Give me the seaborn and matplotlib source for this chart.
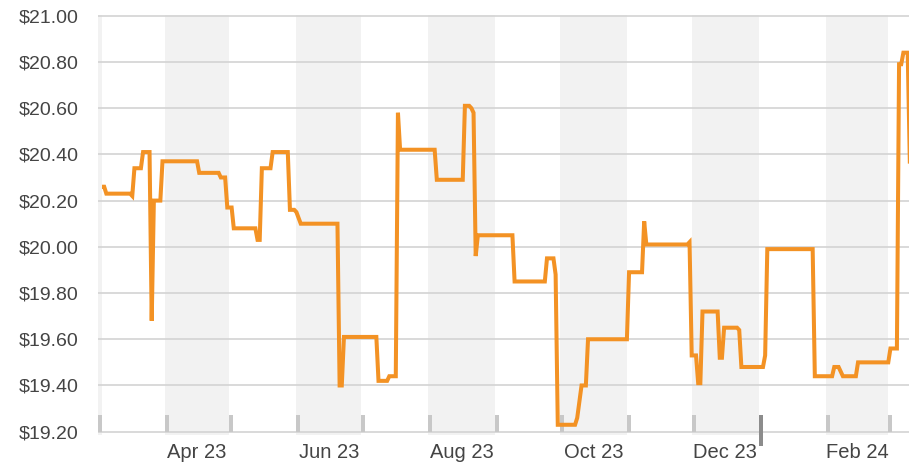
import matplotlib
matplotlib.use("Agg")
import matplotlib.pyplot as plt
import seaborn as sns
import pandas as pd

# ---- data ----
dates = [
    "2023-03-03", "2023-03-04", "2023-03-05", "2023-03-16", "2023-03-17", "2023-03-18",
    "2023-03-21", "2023-03-22", "2023-03-25", "2023-03-26", "2023-03-27", "2023-03-30",
    "2023-03-31", "2023-04-16", "2023-04-17", "2023-04-26", "2023-04-27", "2023-04-29",
    "2023-04-30", "2023-05-02", "2023-05-03", "2023-05-13", "2023-05-14", "2023-05-15",
    "2023-05-16", "2023-05-20", "2023-05-21", "2023-05-28", "2023-05-29", "2023-05-31",
    "2023-06-01", "2023-06-03", "2023-06-20", "2023-06-21", "2023-06-22", "2023-06-23",
    "2023-07-08", "2023-07-09", "2023-07-13", "2023-07-14", "2023-07-17", "2023-07-18",
    "2023-07-19", "2023-08-04", "2023-08-05", "2023-08-17", "2023-08-18", "2023-08-20",
    "2023-08-21", "2023-08-22", "2023-08-23", "2023-08-24", "2023-09-09", "2023-09-10",
    "2023-09-24", "2023-09-25", "2023-09-28", "2023-09-29", "2023-09-30", "2023-10-08",
    "2023-10-09", "2023-10-11", "2023-10-13", "2023-10-14", "2023-11-01", "2023-11-02",
    "2023-11-08", "2023-11-09", "2023-11-10", "2023-11-29", "2023-11-30", "2023-12-01",
    "2023-12-03", "2023-12-04", "2023-12-05", "2023-12-06", "2023-12-13", "2023-12-14",
    "2023-12-15", "2023-12-16", "2023-12-22", "2023-12-23", "2023-12-24", "2024-01-03",
    "2024-01-04", "2024-01-05", "2024-01-26", "2024-01-27", "2024-02-04", "2024-02-05",
    "2024-02-07", "2024-02-09", "2024-02-15", "2024-02-16", "2024-03-01", "2024-03-02",
    "2024-03-05", "2024-03-06", "2024-03-07", "2024-03-08", "2024-03-10", "2024-03-11",
]
prices = [
    20.26, 20.26, 20.23, 20.23, 20.22, 20.34,
    20.34, 20.41, 20.41, 19.68, 20.20, 20.20,
    20.37, 20.37, 20.32, 20.32, 20.30, 20.30,
    20.17, 20.17, 20.08, 20.08, 20.03, 20.03,
    20.34, 20.34, 20.41, 20.41, 20.16, 20.16,
    20.15, 20.10, 20.10, 19.40, 19.40, 19.61,
    19.61, 19.42, 19.42, 19.44, 19.44, 20.58,
    20.42, 20.42, 20.29, 20.29, 20.61, 20.61,
    20.60, 20.58, 19.96, 20.05, 20.05, 19.85,
    19.85, 19.95, 19.95, 19.88, 19.23, 19.23,
    19.26, 19.40, 19.40, 19.60, 19.60, 19.89,
    19.89, 20.11, 20.01, 20.01, 20.02, 19.53,
    19.53, 19.41, 19.41, 19.72, 19.72, 19.52,
    19.52, 19.65, 19.65, 19.64, 19.48, 19.48,
    19.53, 19.99, 19.99, 19.44, 19.44, 19.48,
    19.48, 19.44, 19.44, 19.50, 19.50, 19.56,
    19.56, 20.79, 20.79, 20.84, 20.84, 20.36,
]
y_ticks = [19.20, 19.40, 19.60, 19.80, 20.00, 20.20, 20.40, 20.60, 20.80, 21.00]
y_tick_labels = ["$19.20", "$19.40", "$19.60", "$19.80", "$20.00",
                 "$20.20", "$20.40", "$20.60", "$20.80", "$21.00"]
x_start = "2023-03-01"
x_end_days = 375.6          # visible span in days
year_boundary = "2024-01-01"

# ---- styling ----
sns.set_style("white")
plt.rcParams["font.family"] = ["Liberation Sans", "DejaVu Sans"]

LINE = "#f39224"
BAND = "#f2f2f2"
GRID = "#d3d3d3"
TEXT = "#444444"

df = pd.DataFrame({"date": pd.to_datetime(dates), "price": prices})

W, H = 909, 471
fig = plt.figure(figsize=(W / 100, H / 100), dpi=100)
ax_left_px, ax_bottom_px, ax_top_px = 97.7, 435, 15
ax = fig.add_axes([ax_left_px / W, (H - ax_bottom_px) / H,
                   (W - ax_left_px) / W, (ax_bottom_px - ax_top_px) / H])

x0 = pd.Timestamp(x_start)
x1 = x0 + pd.Timedelta(days=x_end_days)
px_per_day = (W - ax_left_px) / x_end_days
px_per_unit = 231.1
ylo = 19.20 - (ax_bottom_px - 431.7) / px_per_unit
yhi = 21.00 + (15.7 - ax_top_px) / px_per_unit
ax.set_xlim(x0, x1)
ax.set_ylim(ylo, yhi)

# month bands (even months shaded)
months = pd.date_range("2023-02-01", "2024-04-01", freq="MS")
for a, b in zip(months[:-1], months[1:]):
    if a.month % 2 == 0:
        ax.axvspan(a, b, color=BAND, lw=0, zorder=0)
# thin strip at the left edge
ax.axvspan(x0, x0 + pd.Timedelta(days=4 / px_per_day), color=BAND, lw=0, zorder=0)

# gridlines
ax.set_yticks(y_ticks)
ax.set_yticklabels(y_tick_labels)
ax.grid(axis="y", color=GRID, lw=1.2, zorder=1)
ax.grid(axis="x", visible=False)
for s in ax.spines.values():
    s.set_visible(False)

# month boundary tick marks
tick_half = pd.Timedelta(days=2 / px_per_day)
tick_top = 19.20 + (431.7 - 415) / px_per_unit
bounds = pd.date_range("2023-03-01", "2024-03-01", freq="MS")
yb = pd.Timestamp(year_boundary)
for bnd in bounds:
    if bnd == yb:
        ax.vlines(bnd + tick_half, 19.20 - (446 - 431.7) / px_per_unit, tick_top,
                  colors="#8c8c8c", lw=2.88, zorder=2, clip_on=False)
    else:
        ax.vlines(bnd + tick_half, 19.20, tick_top, colors="#c8c8c8", lw=2.88, zorder=2)

# price line
sns.lineplot(data=df, x="date", y="price", ax=ax, color=LINE, lw=2.9,
             estimator=None, zorder=3, legend=False)
for ln in ax.get_lines():
    ln.set_solid_joinstyle("miter")
    ln.set_solid_capstyle("butt")

# x labels centered in shaded months
label_pos, label_txt = [], []
for a, b in zip(months[:-1], months[1:]):
    if a.month % 2 == 0 and a >= x0:
        label_pos.append(a + (b - a) / 2)
        label_txt.append(a.strftime("%b %y"))
ax.set_xticks(label_pos)
ax.set_xticklabels(label_txt)
ax.tick_params(axis="x", length=0, pad=6, labelsize=14.5, labelcolor=TEXT)
ax.tick_params(axis="y", length=0, pad=14, labelsize=14, labelcolor=TEXT)
ax.set_xlabel("")
ax.set_ylabel("")

fig.savefig("out.png", dpi=100)
